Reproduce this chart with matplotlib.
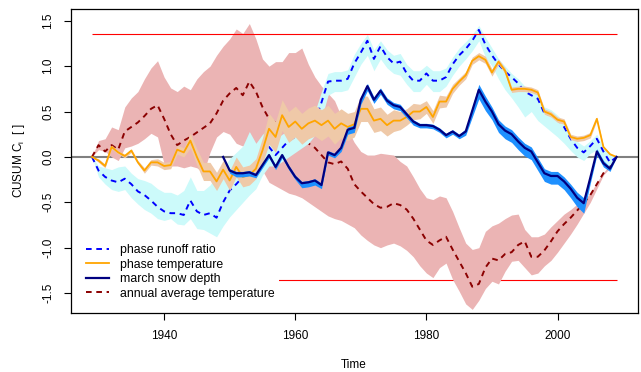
import numpy as np
import matplotlib
matplotlib.use("Agg")
import matplotlib.pyplot as plt

plt.rcParams['font.family'] = ['Liberation Sans', 'DejaVu Sans']
plt.rcParams['mathtext.default'] = 'regular'
plt.rcParams['axes.unicode_minus'] = False

years = np.arange(1929, 2010)
snow_years = np.arange(1949, 2010)

# phase runoff ratio, with its band
runoff = [0.00, -0.15, -0.22, -0.26, -0.28, -0.24, -0.30, -0.38, -0.42, -0.48,
          -0.55, -0.60, -0.62, -0.62, -0.64, -0.48, -0.60, -0.64, -0.62, -0.67,
          -0.50, -0.37, -0.30, -0.22, -0.15, -0.10, 0.02, 0.11, 0.02, 0.10,
          0.18, 0.22, 0.26, 0.30, 0.40, 0.60, 0.83, 0.84, 0.84, 0.86,
          1.03, 1.15, 1.28, 1.08, 1.22, 1.10, 1.03, 1.05, 0.92, 0.84,
          0.84, 0.92, 0.84, 0.84, 0.88, 1.02, 1.12, 1.19, 1.28, 1.40,
          1.24, 1.12, 1.02, 0.94, 0.88, 0.81, 0.72, 0.68, 0.64, 0.48,
          0.46, 0.42, 0.33, 0.20, 0.10, 0.05, 0.12, 0.20, 0.06, -0.06,
          0.00]
runoff_hi = [0.00, -0.10, -0.12, -0.14, -0.11, -0.10, -0.18, -0.24, -0.26, -0.29,
             -0.35, -0.39, -0.39, -0.42, -0.37, -0.22, -0.37, -0.37, -0.31, -0.20,
             -0.12, -0.02, 0.05, 0.12, 0.28, 0.15, 0.25, 0.30, 0.20, 0.25,
             0.30, 0.33, 0.38, 0.42, 0.50, 0.72, 0.92, 0.94, 0.94, 0.96,
             1.13, 1.25, 1.35, 1.18, 1.28, 1.18, 1.12, 1.14, 1.02, 0.95,
             0.95, 1.01, 0.95, 0.95, 0.98, 1.10, 1.20, 1.27, 1.35, 1.45,
             1.32, 1.20, 1.08, 1.00, 0.92, 0.86, 0.78, 0.74, 0.70, 0.55,
             0.52, 0.46, 0.38, 0.25, 0.17, 0.12, 0.18, 0.25, 0.10, 0.03,
             0.00]
runoff_lo = [0.00, -0.22, -0.30, -0.36, -0.38, -0.36, -0.45, -0.52, -0.58, -0.62,
             -0.68, -0.70, -0.68, -0.74, -0.75, -0.68, -0.79, -0.80, -0.84, -0.88,
             -0.76, -0.66, -0.58, -0.50, -0.42, -0.35, -0.20, -0.10, -0.10, -0.05,
             0.00, 0.05, 0.10, 0.15, 0.24, 0.42, 0.68, 0.72, 0.72, 0.74,
             0.88, 1.02, 1.12, 0.95, 1.08, 0.98, 0.92, 0.90, 0.80, 0.72,
             0.72, 0.80, 0.72, 0.72, 0.78, 0.90, 1.00, 1.08, 1.17, 1.28,
             1.10, 1.00, 0.86, 0.74, 0.65, 0.55, 0.44, 0.50, 0.40, 0.34,
             0.28, 0.22, 0.15, 0.07, 0.00, -0.04, 0.04, 0.08, -0.10, -0.09,
             0.00]

# phase temperature and half width of its band
phase_temp = [0.00, -0.04, -0.10, 0.11, 0.05, 0.01, 0.07, -0.06, -0.15, -0.06,
              -0.06, -0.10, -0.09, 0.08, 0.05, 0.18, 0.00, -0.16, -0.16, -0.27,
              -0.14, -0.26, -0.11, -0.22, -0.20, -0.13, 0.07, 0.31, 0.22, 0.46,
              0.33, 0.39, 0.31, 0.37, 0.40, 0.35, 0.40, 0.31, 0.37, 0.33,
              0.36, 0.53, 0.53, 0.40, 0.42, 0.35, 0.40, 0.40, 0.44, 0.50,
              0.50, 0.55, 0.44, 0.61, 0.61, 0.75, 0.83, 0.90, 1.06, 1.11,
              1.07, 0.93, 1.05, 0.95, 0.74, 0.75, 0.75, 0.74, 0.71, 0.50,
              0.47, 0.41, 0.39, 0.22, 0.20, 0.21, 0.24, 0.42, 0.11, 0.03,
              0.00]
phase_temp_w = [0.00, 0.02, 0.02, 0.02, 0.02, 0.02, 0.02, 0.02, 0.03, 0.03,
                0.04, 0.04, 0.04, 0.05, 0.05, 0.08, 0.09, 0.10, 0.10, 0.10,
                0.10, 0.11, 0.11, 0.11, 0.11, 0.11, 0.14, 0.17, 0.17, 0.17,
                0.17, 0.17, 0.17, 0.17, 0.17, 0.17, 0.17, 0.17, 0.16, 0.15,
                0.14, 0.14, 0.14, 0.13, 0.13, 0.12, 0.12, 0.10, 0.09, 0.09,
                0.08, 0.07, 0.07, 0.07, 0.06, 0.05, 0.04, 0.04, 0.04, 0.04,
                0.04, 0.04, 0.03, 0.03, 0.03, 0.03, 0.03, 0.03, 0.03, 0.03,
                0.03, 0.03, 0.03, 0.03, 0.03, 0.03, 0.03, 0.02, 0.01, 0.01,
                0.00]

# march snow depth (from 1949) and band offsets above / below
snow = [0.00, -0.15, -0.18, -0.18, -0.17, -0.20, -0.09, 0.02, -0.11, 0.02,
        -0.11, -0.22, -0.29, -0.28, -0.26, -0.31, 0.05, 0.02, 0.10, 0.30,
        0.32, 0.63, 0.78, 0.63, 0.73, 0.62, 0.57, 0.55, 0.47, 0.39,
        0.35, 0.35, 0.34, 0.30, 0.24, 0.28, 0.23, 0.28, 0.51, 0.74,
        0.61, 0.50, 0.36, 0.29, 0.25, 0.17, 0.10, 0.06, -0.06, -0.18,
        -0.21, -0.21, -0.27, -0.35, -0.45, -0.51, -0.23, 0.06, -0.07, -0.13,
        0.00]
snow_up = [0.00, 0.02, 0.02, 0.02, 0.02, 0.02, 0.02, 0.02, 0.02, 0.02,
           0.02, 0.02, 0.02, 0.02, 0.02, 0.02, 0.02, 0.02, 0.02, 0.03,
           0.03, 0.03, 0.03, 0.03, 0.03, 0.03, 0.03, 0.03, 0.02, 0.02,
           0.02, 0.02, 0.02, 0.02, 0.02, 0.02, 0.02, 0.03, 0.04, 0.06,
           0.06, 0.05, 0.05, 0.05, 0.05, 0.05, 0.05, 0.05, 0.05, 0.05,
           0.05, 0.05, 0.05, 0.05, 0.06, 0.06, 0.04, 0.03, 0.03, 0.02,
           0.00]
snow_dn = [0.00, 0.03, 0.04, 0.04, 0.04, 0.03, 0.03, 0.03, 0.03, 0.03,
           0.03, 0.03, 0.05, 0.05, 0.05, 0.04, 0.03, 0.03, 0.04, 0.05,
           0.05, 0.05, 0.05, 0.04, 0.04, 0.04, 0.04, 0.04, 0.04, 0.04,
           0.03, 0.03, 0.03, 0.03, 0.03, 0.03, 0.03, 0.04, 0.07, 0.10,
           0.10, 0.09, 0.09, 0.09, 0.09, 0.09, 0.09, 0.09, 0.09, 0.09,
           0.09, 0.09, 0.09, 0.10, 0.10, 0.11, 0.06, 0.04, 0.04, 0.03,
           0.00]

# annual average temperature, with its band
annual = [0.00, 0.13, 0.06, 0.13, 0.08, 0.28, 0.33, 0.38, 0.45, 0.53,
          0.57, 0.42, 0.25, 0.13, 0.18, 0.22, 0.27, 0.32, 0.37, 0.48,
          0.62, 0.70, 0.76, 0.68, 0.83, 0.72, 0.55, 0.42, 0.38, 0.35,
          0.30, 0.26, 0.20, 0.15, 0.10, 0.02, -0.06, -0.08, -0.05, -0.13,
          -0.30, -0.38, -0.45, -0.52, -0.56, -0.55, -0.51, -0.53, -0.58, -0.68,
          -0.80, -0.92, -0.97, -0.92, -0.88, -1.02, -1.15, -1.28, -1.43, -1.40,
          -1.22, -1.12, -1.14, -1.07, -1.05, -0.97, -0.93, -1.10, -1.10, -1.03,
          -0.93, -0.82, -0.74, -0.67, -0.59, -0.51, -0.42, -0.30, -0.18, -0.10,
          0.00]
annual_hi = [0.00, 0.18, 0.20, 0.33, 0.30, 0.55, 0.65, 0.72, 0.86, 0.98,
             1.06, 0.88, 0.76, 0.72, 0.78, 0.74, 0.86, 0.94, 1.00, 1.12,
             1.22, 1.30, 1.41, 1.36, 1.47, 1.30, 1.08, 1.00, 1.05, 1.05,
             1.15, 1.15, 1.20, 1.02, 0.88, 0.78, 0.70, 0.62, 0.45, 0.30,
             0.16, 0.06, 0.02, 0.02, 0.04, 0.03, 0.02, -0.05, -0.10, -0.22,
             -0.35, -0.45, -0.47, -0.43, -0.45, -0.60, -0.78, -0.95, -1.02, -1.00,
             -0.82, -0.76, -0.73, -0.68, -0.64, -0.63, -0.80, -0.88, -0.88, -0.85,
             -0.77, -0.70, -0.63, -0.58, -0.52, -0.48, -0.40, -0.28, -0.17, -0.09,
             0.00]
annual_lo = [0.00, 0.08, 0.06, 0.00, -0.04, 0.10, 0.12, 0.15, 0.20, 0.26,
             0.22, -0.08, -0.10, -0.10, -0.12, -0.10, -0.12, -0.18, 0.05, 0.22,
             0.28, 0.25, 0.15, 0.12, 0.18, 0.10, -0.15, -0.28, -0.32, -0.36,
             -0.40, -0.42, -0.45, -0.50, -0.55, -0.60, -0.65, -0.68, -0.70, -0.74,
             -0.78, -0.86, -0.92, -0.97, -1.00, -0.97, -0.95, -0.98, -1.03, -1.10,
             -1.20, -1.28, -1.33, -1.22, -1.17, -1.35, -1.48, -1.62, -1.68, -1.58,
             -1.45, -1.37, -1.40, -1.26, -1.15, -1.14, -1.22, -1.30, -1.28, -1.20,
             -1.14, -1.05, -0.95, -0.85, -0.74, -0.62, -0.50, -0.35, -0.20, -0.12,
             0.00]

# control limits
limit = 1.36

phase_temp = np.array(phase_temp)
phase_temp_w = np.array(phase_temp_w)
snow = np.array(snow)

fig = plt.figure(figsize=(6.41, 3.72), dpi=100)
ax = fig.add_axes([71 / 641, 59 / 372, 566.5 / 641, 304 / 372])

dash = (0, (2.9, 2.4))

ax.axhline(0, color='#808080', lw=1.5, zorder=1)
ax.hlines(-limit, years[0], years[-1], color='red', lw=0.8, zorder=1.5)

ax.fill_between(years, annual_lo, annual_hi, color='#ebb4b4', lw=0, zorder=2)
l_ann, = ax.plot(years, annual, color='#8b0000', lw=1.4, ls=dash, zorder=3)

ax.fill_between(years, runoff_lo, runoff_hi, color='#ccfafa', lw=0, zorder=4)
l_run, = ax.plot(years, runoff, color='blue', lw=1.4, ls=dash, zorder=5)

ax.fill_between(years, phase_temp - phase_temp_w, phase_temp + phase_temp_w,
                color='#efc9a8', lw=0, zorder=6)
l_pt, = ax.plot(years, phase_temp, color='orange', lw=1.3, zorder=7)

ax.fill_between(snow_years, snow - np.array(snow_dn), snow + np.array(snow_up),
                color='#1e90ff', lw=0, zorder=8)
l_snow, = ax.plot(snow_years, snow, color='#000080', lw=1.6, zorder=9)

ax.hlines(limit, years[0], years[-1], color='red', lw=0.8, zorder=10)

ax.set_xlim(1925.8, 2012.2)
ax.set_ylim(-1.72, 1.63)
ax.set_xticks([1940, 1960, 1980, 2000])
ax.set_yticks([-1.5, -1.0, -0.5, 0.0, 0.5, 1.0, 1.5])
ax.set_yticklabels(['-1.5', '-1.0', '-0.5', '0.0', '0.5', '1.0', '1.5'],
                   rotation=90, va='center')
ax.tick_params(direction='out', length=5, width=0.8, labelsize=8.5, pad=7)
for s in ax.spines.values():
    s.set_linewidth(0.9)

leg = ax.legend([l_run, l_pt, l_snow, l_ann],
                ['phase runoff ratio', 'phase temperature', 'march snow depth',
                 'annual average temperature'],
                loc='upper left', bbox_to_anchor=(0.019, 0.24), borderaxespad=0,
                fontsize=8.8, frameon=True, fancybox=False, facecolor='white',
                edgecolor='none', framealpha=1, handlelength=1.9,
                handletextpad=0.9, labelspacing=0.2, borderpad=0.35)
leg.set_zorder(11)

fig.text(19 / 641, 1 - 161 / 372, 'CUSUM C$_i$  [ ]', rotation=90,
         ha='center', va='center', fontsize=8.5)
fig.text(354 / 641, 1 - 364.5 / 372, 'Time', ha='center', va='center',
         fontsize=8.5)

fig.savefig('out.png', dpi=100)
